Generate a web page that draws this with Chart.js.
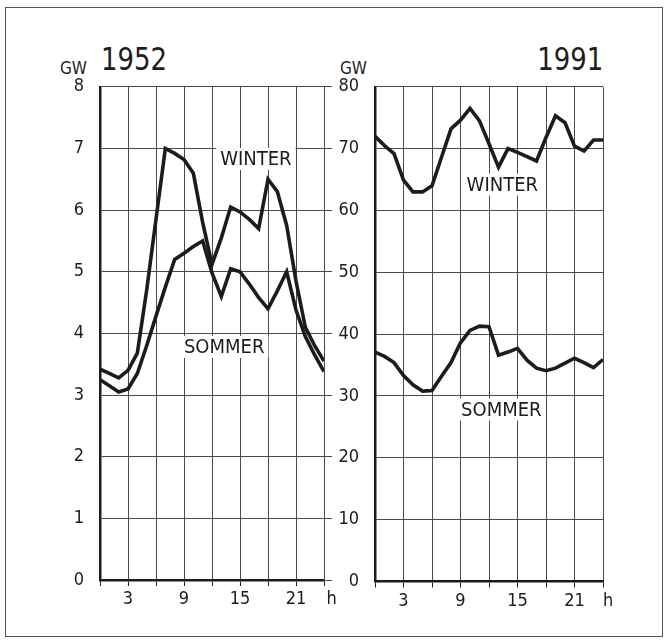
<!DOCTYPE html>
<html>
<head>
<meta charset="utf-8">
<script src="https://cdn.jsdelivr.net/npm/chart.js@4.4.1/dist/chart.umd.min.js"></script>
<style>
  html, body { margin: 0; padding: 0; background: #fff; }
  body {
    width: 668px; height: 644px; position: relative; overflow: hidden;
    font-family: "DejaVu Sans Condensed", "DejaVu Sans", sans-serif; color: #1e1e1e;
  }
  .frame { position: absolute; left: 5px; top: 7px; width: 658px; height: 630px;
           border: 1.5px solid #555; box-sizing: border-box; }
  .t { position: absolute; line-height: 1; white-space: nowrap; }
  .unit { font-size: 17px; top: 60px; }
  .year { font-size: 32px; top: 43px; transform: scaleX(0.9); }
  canvas { position: absolute; top: 60px; }
  #c1952 { left: 0; }
  #c1991 { left: 328px; }
</style>
</head>
<body>
<div class="frame"></div>
<div class="t unit" style="left:60px">GW</div>
<div class="t year" style="left:101px; transform-origin:left top">1952</div>
<div class="t unit" style="left:340px">GW</div>
<div class="t year" style="right:65px; transform-origin:right top">1991</div>
<canvas id="c1952" width="340" height="560"></canvas>
<canvas id="c1991" width="340" height="560"></canvas>
<script>
(function() {
  'use strict';

  // ── Data (hourly load, GW) ────────────────────────────────────
  const HOURS = [0,1,2,3,4,5,6,7,8,9,10,11,12,13,14,15,16,17,18,19,20,21,22,23,24];
  const WINTER_1952 = [3.42,3.35,3.28,3.40,3.68,4.70,5.85,7.00,6.92,6.82,6.60,5.80,5.12,
                       5.55,6.05,5.97,5.85,5.70,6.50,6.30,5.75,4.85,4.10,3.80,3.55];
  const SUMMER_1952 = [3.25,3.15,3.05,3.10,3.35,3.80,4.28,4.75,5.20,5.30,5.41,5.50,4.98,
                       4.60,5.05,5.00,4.80,4.58,4.40,4.69,5.00,4.38,3.95,3.65,3.38];
  const WINTER_1991 = [72.0,70.5,69.2,64.9,63.0,63.0,64.0,68.6,73.2,74.6,76.5,74.5,70.8,
                       67.0,70.0,69.4,68.7,68.0,71.8,75.3,74.2,70.4,69.6,71.4,71.4];
  const SUMMER_1991 = [37.1,36.4,35.4,33.3,31.8,30.8,30.9,33.2,35.4,38.6,40.6,41.3,41.2,
                       36.6,37.1,37.7,35.8,34.5,34.1,34.5,35.3,36.1,35.4,34.6,35.9];
  const X_LABELS = { 3: '3', 9: '9', 15: '15', 21: '21' };

  const INK  = '#1c1c1c';
  const GRID = '#4a4a4a';
  const FONT = '"DejaVu Sans Condensed", "DejaVu Sans", sans-serif';

  const toPoints = (vals) => vals.map((v, i) => ({ x: HOURS[i], y: v }));

  // season names on white patches, drawn under the curves
  const seasonLabels = {
    id: 'seasonLabels',
    beforeDatasetsDraw(chart, args, opts) {
      const { ctx, scales: { x, y } } = chart;
      ctx.save();
      ctx.font = '20px ' + FONT;
      ctx.textAlign = 'center';
      ctx.textBaseline = 'middle';
      opts.items.forEach(it => {
        const px = x.getPixelForValue(it.x);
        const py = y.getPixelForValue(it.y);
        const w = ctx.measureText(it.text).width;
        ctx.fillStyle = '#fff';
        ctx.fillRect(px - w / 2 - 4, py - 11, w + 8, 22);
        ctx.fillStyle = INK;
        ctx.fillText(it.text, px, py + 1);
      });
      ctx.restore();
    }
  };

  function makePanel(id, o) {
    const yAxis = {
      position: 'left',
      min: 0, max: o.yMax,
      afterFit: (s) => { s.width = o.yWidth; },
      ticks: { stepSize: o.yStep, padding: 16, color: INK, font: { family: FONT, size: 18 } },
      grid: { color: GRID, lineWidth: 1, drawTicks: false },
      border: { display: true, color: INK, width: 2.5 }
    };
    const scales = {
      x: {
        type: 'linear', min: 0, max: 24,
        afterFit: (s) => { s.height = o.xHeight; },
        ticks: {
          stepSize: 3, autoSkip: false, maxRotation: 0, padding: 3,
          color: INK, font: { family: FONT, size: 18 },
          callback: (v) => v === 24 ? o.hLabel : (X_LABELS[v] || '')
        },
        grid: { color: GRID, lineWidth: 1, tickLength: 6, tickColor: INK },
        border: { display: true, color: INK, width: 2.5 }
      },
      y: yAxis
    };
    if (o.rightTicks) {
      scales.yr = {
        position: 'right', min: 0, max: o.yMax,
        afterFit: (s) => { s.width = 8; },
        ticks: { stepSize: o.yStep, display: false },
        grid: { drawOnChartArea: false, tickLength: 8, color: GRID, lineWidth: 1 },
        border: { display: true, color: GRID, width: 1 }
      };
    }
    const line = (vals) => ({
      data: toPoints(vals),
      borderColor: INK,
      borderWidth: 3.6,
      pointRadius: 0,
      tension: 0,
      borderJoinStyle: 'miter',
      fill: false
    });
    return new Chart(document.getElementById(id), {
      type: 'line',
      data: { datasets: [line(o.winter), line(o.summer)] },
      options: {
        responsive: false,
        animation: false,
        events: [],
        layout: { padding: o.padding },
        plugins: {
          legend: { display: false },
          tooltip: { enabled: false },
          seasonLabels: { items: o.labels }
        },
        scales
      },
      plugins: [seasonLabels]
    });
  }

  // ── 1952 — 0 to 8 GW ──────────────────────────────────────────
  makePanel('c1952', {
    winter: WINTER_1952, summer: SUMMER_1952,
    yMax: 8, yStep: 1, yWidth: 100, xHeight: 40, rightTicks: true, hLabel: '   h',
    padding: { top: 22.5, right: 8, bottom: 0, left: 0 },
    labels: [
      { text: 'WINTER', x: 16.7, y: 6.83 },
      { text: 'SOMMER', x: 13.3, y: 3.78 }
    ]
  });

  // ── 1991 — 0 to 80 GW ─────────────────────────────────────────
  makePanel('c1991', {
    winter: WINTER_1991, summer: SUMMER_1991,
    yMax: 80, yStep: 10, yWidth: 47, xHeight: 38.5, rightTicks: false, hLabel: '  h',
    padding: { top: 22.7, right: 65, bottom: 0, left: 0 },
    labels: [
      { text: 'WINTER', x: 13.4, y: 64.2 },
      { text: 'SOMMER', x: 13.3, y: 27.8 }
    ]
  });
})();
</script>
</body>
</html>
